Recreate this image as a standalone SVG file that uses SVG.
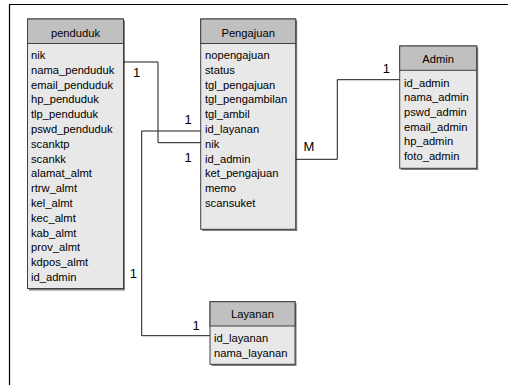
<svg xmlns="http://www.w3.org/2000/svg" width="508" height="385" viewBox="0 0 508 385">
<style>
.sh{fill:#7f7f7f}
.hd{fill:#c0c0c0;stroke:#404040;stroke-width:1}
.bd{fill:#e8e8e8;stroke:#404040;stroke-width:1}
text{font-family:"Liberation Sans",Arial,sans-serif;font-size:11.2px;fill:#000}
.ht{text-anchor:middle}
.lb{font-size:13px}
.cn{fill:none;stroke:#1a1a1a;stroke-width:1}
</style>
<rect x="0" y="0" width="508" height="385" fill="#fff"/>
<path d="M9.5 390 V4.5 H510" fill="none" stroke="#000" stroke-width="1.2"/>
<g id="penduduk">
<rect class="sh" x="29" y="20.5" width="96" height="270"/>
<rect class="bd" x="27.5" y="19" width="96" height="269.5"/>
<rect class="hd" x="27.5" y="19" width="96" height="24.5"/>
<text class="ht" x="75.5" y="36.5">penduduk</text>
<text x="31" y="59">nik</text>
<text x="31" y="73.8">nama_penduduk</text>
<text x="31" y="88.6">email_penduduk</text>
<text x="31" y="103.4">hp_penduduk</text>
<text x="31" y="118.2">tlp_penduduk</text>
<text x="31" y="133">pswd_penduduk</text>
<text x="31" y="147.8">scanktp</text>
<text x="31" y="162.6">scankk</text>
<text x="31" y="177.4">alamat_almt</text>
<text x="31" y="192.2">rtrw_almt</text>
<text x="31" y="207">kel_almt</text>
<text x="31" y="221.8">kec_almt</text>
<text x="31" y="236.6">kab_almt</text>
<text x="31" y="251.4">prov_almt</text>
<text x="31" y="266.2">kdpos_almt</text>
<text x="31" y="281">id_admin</text>
</g>
<g id="pengajuan">
<rect class="sh" x="202.2" y="20.5" width="95" height="210.5"/>
<rect class="bd" x="200.7" y="19" width="95" height="210.3"/>
<rect class="hd" x="200.7" y="19" width="95" height="24.5"/>
<text class="ht" x="248.2" y="36.5">Pengajuan</text>
<text x="205" y="59">nopengajuan</text>
<text x="205" y="73.8">status</text>
<text x="205" y="88.6">tgl_pengajuan</text>
<text x="205" y="103.4">tgl_pengambilan</text>
<text x="205" y="118.2">tgl_ambil</text>
<text x="205" y="133">id_layanan</text>
<text x="205" y="147.8">nik</text>
<text x="205" y="162.6">id_admin</text>
<text x="205" y="177.4">ket_pengajuan</text>
<text x="205" y="192.2">memo</text>
<text x="205" y="207">scansuket</text>
</g>
<g id="admin">
<rect class="sh" x="401.2" y="47.5" width="77" height="122.5"/>
<rect class="bd" x="399.7" y="46" width="77" height="122.3"/>
<rect class="hd" x="399.7" y="46" width="77" height="24.3"/>
<text class="ht" x="438.2" y="62.5">Admin</text>
<text x="404" y="86.7">id_admin</text>
<text x="404" y="101.3">nama_admin</text>
<text x="404" y="115.9">pswd_admin</text>
<text x="404" y="130.5">email_admin</text>
<text x="404" y="145.1">hp_admin</text>
<text x="404" y="159.7">foto_admin</text>
</g>
<g id="layanan">
<rect class="sh" x="211.5" y="303.2" width="85" height="62.8"/>
<rect class="bd" x="210" y="301.7" width="85" height="62.6"/>
<rect class="hd" x="210" y="301.7" width="85" height="24.3"/>
<text class="ht" x="252.5" y="317.7">Layanan</text>
<text x="214" y="342.3">id_layanan</text>
<text x="214" y="357.3">nama_layanan</text>
</g>
<g id="connectors">
<path class="cn" d="M123.5 62 H158 V142.7 H200.7"/>
<path class="cn" d="M200.7 131 H141.7 V335.7 H210"/>
<path class="cn" d="M295.7 159.3 H337.3 V79.7 H399.7"/>
<text class="lb" x="136.5" y="76.5" text-anchor="middle">1</text>
<text class="lb" x="188" y="161.5" text-anchor="middle">1</text>
<text class="lb" x="188" y="123.8" text-anchor="middle">1</text>
<text class="lb" x="133.3" y="278" text-anchor="middle">1</text>
<text class="lb" x="196" y="329.8" text-anchor="middle">1</text>
<text class="lb" x="309" y="150.8" text-anchor="middle">M</text>
<text class="lb" x="386.3" y="73" text-anchor="middle">1</text>
</g>
</svg>
